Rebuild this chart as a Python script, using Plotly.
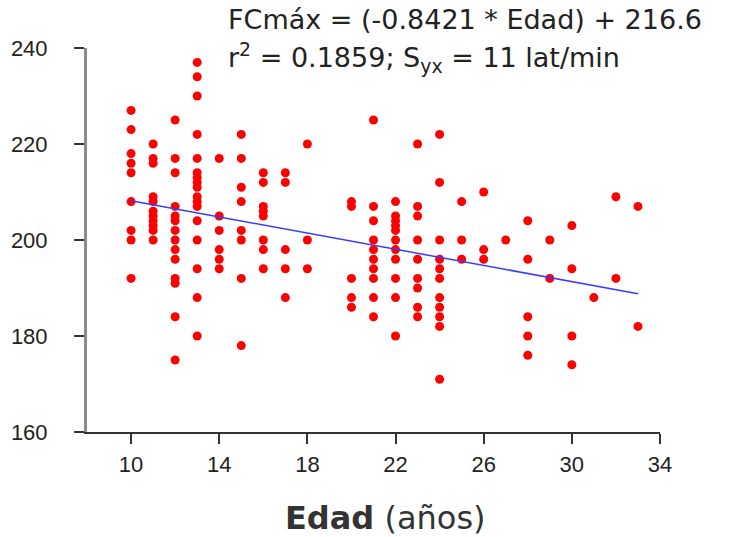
import plotly.graph_objects as go

# Age (years) and maximal heart rate (beats/min) per subject, grouped by age
ages = [10, 11, 12, 13, 14, 15, 16, 17, 18, 20, 21, 22, 23, 24, 25, 26, 27, 28, 29, 30, 31, 32, 33]
hr_by_age = [
    [227, 223, 218, 216, 214, 208, 202, 200, 192],
    [220, 217, 216, 209, 208, 206, 205, 204, 203, 202, 200],
    [225, 217, 214, 207, 205, 204, 202, 200, 198, 196, 192, 191, 184, 175],
    [237, 234, 230, 222, 217, 214, 213, 212, 211, 209, 208, 207, 204, 200, 194, 188, 180],
    [217, 205, 202, 198, 196, 194],
    [222, 217, 211, 208, 202, 200, 192, 178],
    [214, 212, 207, 206, 205, 200, 198, 194],
    [214, 212, 198, 194, 188],
    [220, 200, 194],
    [208, 207, 192, 188, 186],
    [225, 207, 204, 200, 198, 196, 194, 192, 188, 184],
    [208, 205, 204, 203, 202, 200, 198, 196, 192, 188, 180],
    [220, 207, 205, 200, 196, 192, 190, 186, 184],
    [222, 212, 200, 196, 194, 192, 188, 186, 184, 182, 171],
    [208, 200, 196],
    [210, 198, 196],
    [200],
    [204, 196, 184, 180, 176],
    [200, 192],
    [203, 194, 180, 174],
    [188],
    [209, 192],
    [207, 182],
]

slope = -0.8421
intercept = 216.6
fit_x = [10, 33]

x_ticks = [10, 14, 18, 22, 26, 30, 34]
y_ticks = [160, 180, 200, 220, 240]

xs, ys = [], []
for a, vals in zip(ages, hr_by_age):
    xs += [a] * len(vals)
    ys += vals

fit_y = [slope * v + intercept for v in fit_x]

fig = go.Figure()
fig.add_trace(go.Scatter(
    x=xs, y=ys, mode="markers",
    marker=dict(color="#ff0000", size=9, line=dict(width=0)),
    hoverinfo="skip", showlegend=False,
))
fig.add_trace(go.Scatter(
    x=fit_x, y=fit_y, mode="lines",
    line=dict(color="#3b3bff", width=1.5),
    hoverinfo="skip", showlegend=False,
))

tick_font = dict(family="Liberation Sans Narrow, Arial Narrow, Liberation Sans, sans-serif",
                 size=22, color="#222222")
note_font = dict(family="DejaVu Sans, Verdana, sans-serif", size=27, color="#222222")

# plot area spans 573 x 384 px; helpers convert page pixels to paper fractions
def px(xp):
    return (xp - 87) / 573

def py(yp):
    return (432 - yp) / 384

fig.update_layout(
    width=737, height=537,
    margin=dict(l=87, r=77, t=48, b=105),
    paper_bgcolor="white", plot_bgcolor="white",
    xaxis=dict(
        range=[8, 34], tickvals=x_ticks, ticks="outside", ticklen=10,
        tickcolor="#333333", tickwidth=1.5,
        showline=True, linecolor="#333333", linewidth=1.5,
        showgrid=False, zeroline=False, tickfont=tick_font,
        ticklabelstandoff=2,
    ),
    yaxis=dict(
        range=[160, 240], tickvals=y_ticks, ticks="outside", ticklen=10,
        tickcolor="#333333", tickwidth=1.5,
        showline=True, linecolor="#8a8a8a", linewidth=3,
        showgrid=False, zeroline=False, tickfont=tick_font,
        ticklabelstandoff=22,
    ),
    annotations=[
        dict(text="FCmáx = (-0.8421 * Edad) + 216.6",
             xref="paper", yref="paper", x=px(226), y=py(19),
             xanchor="left", yanchor="middle", showarrow=False, font=note_font),
        dict(text="r<sup>2</sup> = 0.1859; S<sub>yx</sub> = 11 lat/min",
             xref="paper", yref="paper", x=px(226), y=py(57),
             xanchor="left", yanchor="middle", showarrow=False, font=note_font),
        dict(text="<b>Edad</b> (años)",
             xref="paper", yref="paper", x=px(385), y=py(518),
             xanchor="center", yanchor="middle", showarrow=False,
             font=dict(family="DejaVu Sans, Verdana, sans-serif", size=32, color="#333333")),
    ],
)

fig.write_html("out.html")
